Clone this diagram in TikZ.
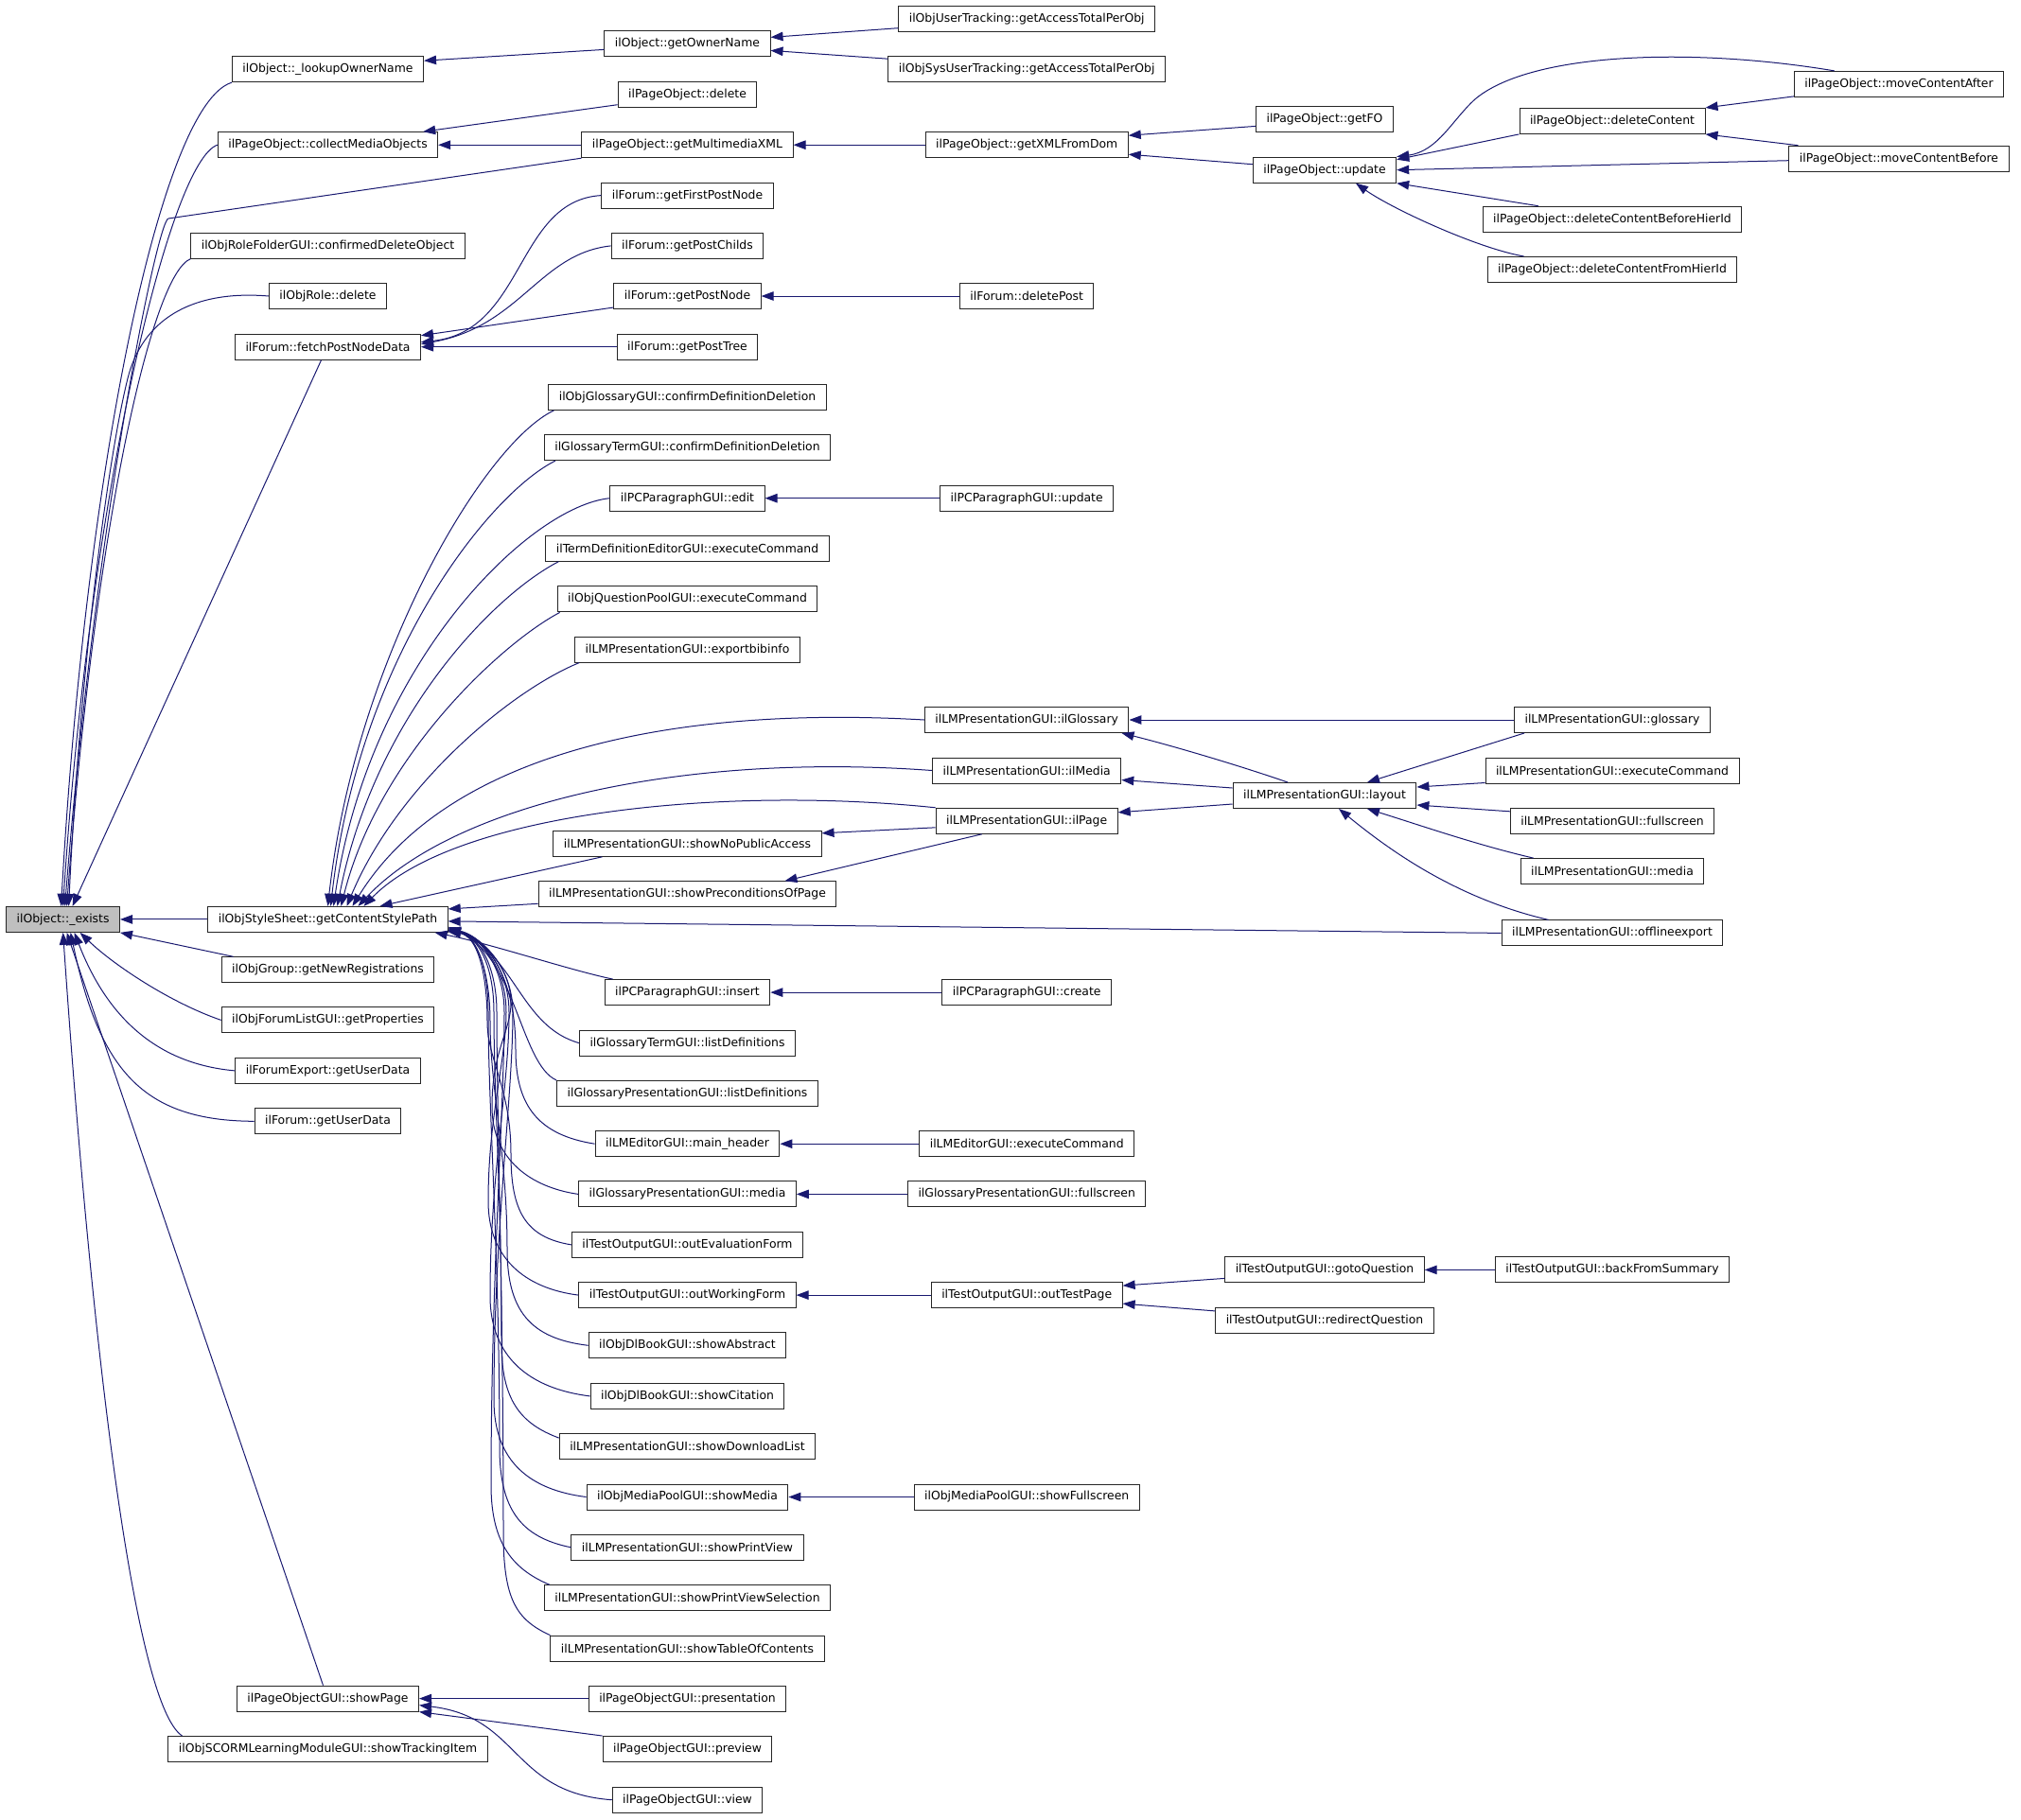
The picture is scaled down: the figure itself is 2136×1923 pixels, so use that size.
\documentclass[tikz,border=0pt]{standalone}
\usepackage{fontspec}
\setmainfont{DejaVu Sans}
\usepackage{tikz}
\usetikzlibrary{arrows.meta}
\definecolor{edgeblue}{HTML}{191970}
\definecolor{hilite}{HTML}{BFBFBF}

\begin{document}
\begin{tikzpicture}[x=1pt,y=-1pt,
	fn/.style={draw=black!85,line width=1pt,fill=white,font=\fontsize{12.4}{14}\selectfont,inner xsep=11pt,inner ysep=0pt,minimum height=27pt},
	call/.style={color=edgeblue,line width=1pt,-{Triangle[length=13pt,width=9.5pt]}}]

	\useasboundingbox (0,0) rectangle (2136,1923);

	%first column
	\node[fn,fill=hilite] (exists) at (66.6,971.9){ilObject::\_exists};
	\node[fn] (lookup) at (346.5,73.2){ilObject::\_lookupOwnerName};
	\node[fn] (collect) at (346.5,153.2){ilPageObject::collectMediaObjects};
	\node[fn] (rfdel) at (346.5,259.7){ilObjRoleFolderGUI::confirmedDeleteObject};
	\node[fn] (roledel) at (346.5,313){ilObjRole::delete};
	\node[fn] (fetch) at (346.5,366.7){ilForum::fetchPostNodeData};
	\node[fn] (gcsp) at (346.5,971.9){ilObjStyleSheet::getContentStylePath};
	\node[fn] (grpreg) at (346.5,1025.3){ilObjGroup::getNewRegistrations};
	\node[fn] (flprop) at (346.5,1078.4){ilObjForumListGUI::getProperties};
	\node[fn] (fexp) at (346.5,1131.9){ilForumExport::getUserData};
	\node[fn] (fuser) at (346.5,1185.3){ilForum::getUserData};
	\node[fn] (showpage) at (346.5,1795.6){ilPageObjectGUI::showPage};
	\node[fn] (scorm) at (346.5,1849){ilObjSCORMLearningModuleGUI::showTrackingItem};

	%second column
	\node[fn] (ownername) at (726.5,46.4){ilObject::getOwnerName};
	\node[fn] (podel) at (726.5,99.7){ilPageObject::delete};
	\node[fn] (mmxml) at (726.5,153.2){ilPageObject::getMultimediaXML};
	\node[fn] (firstpost) at (726.5,206.6){ilForum::getFirstPostNode};
	\node[fn] (postchilds) at (726.5,259.9){ilForum::getPostChilds};
	\node[fn] (postnode) at (726.5,313){ilForum::getPostNode};
	\node[fn] (posttree) at (726.5,366.7){ilForum::getPostTree};
	\node[fn] (glocdd) at (726.5,419.9){ilObjGlossaryGUI::confirmDefinitionDeletion};
	\node[fn] (termcdd) at (726.5,473.2){ilGlossaryTermGUI::confirmDefinitionDeletion};
	\node[fn] (pcedit) at (726.5,526.7){ilPCParagraphGUI::edit};
	\node[fn] (tdexec) at (726.5,579.7){ilTermDefinitionEditorGUI::executeCommand};
	\node[fn] (qpexec) at (726.5,633.4){ilObjQuestionPoolGUI::executeCommand};
	\node[fn] (bibinfo) at (726.5,686.6){ilLMPresentationGUI::exportbibinfo};
	\node[fn] (nopublic) at (726.5,891.8){ilLMPresentationGUI::showNoPublicAccess};
	\node[fn] (precond) at (726.5,945.3){ilLMPresentationGUI::showPreconditionsOfPage};
	\node[fn] (pcinsert) at (726.5,1049.1){ilPCParagraphGUI::insert};
	\node[fn] (termlist) at (726.5,1102.6){ilGlossaryTermGUI::listDefinitions};
	\node[fn] (gplist) at (726.5,1155.9){ilGlossaryPresentationGUI::listDefinitions};
	\node[fn] (mainheader) at (726.5,1209.2){ilLMEditorGUI::main\_header};
	\node[fn] (gpmedia) at (726.5,1262.4){ilGlossaryPresentationGUI::media};
	\node[fn] (evalform) at (726.5,1315.9){ilTestOutputGUI::outEvaluationForm};
	\node[fn] (workform) at (726.5,1369.1){ilTestOutputGUI::outWorkingForm};
	\node[fn] (abstract) at (726.5,1422.3){ilObjDlBookGUI::showAbstract};
	\node[fn] (citation) at (726.5,1475.9){ilObjDlBookGUI::showCitation};
	\node[fn] (download) at (726.5,1529.1){ilLMPresentationGUI::showDownloadList};
	\node[fn] (mpmedia) at (726.5,1582.5){ilObjMediaPoolGUI::showMedia};
	\node[fn] (printview) at (726.5,1635.8){ilLMPresentationGUI::showPrintView};
	\node[fn] (printsel) at (726.5,1689.3){ilLMPresentationGUI::showPrintViewSelection};
	\node[fn] (toc) at (726.5,1742.6){ilLMPresentationGUI::showTableOfContents};
	\node[fn] (presentation) at (726.5,1795.6){ilPageObjectGUI::presentation};
	\node[fn] (preview) at (726.5,1849){ilPageObjectGUI::preview};
	\node[fn] (view) at (726.5,1902.7){ilPageObjectGUI::view};

	%third column
	\node[fn] (usertrack) at (1085.2,19.7){ilObjUserTracking::getAccessTotalPerObj};
	\node[fn] (sysusertrack) at (1085.2,73.2){ilObjSysUserTracking::getAccessTotalPerObj};
	\node[fn] (xmldom) at (1085.2,153.2){ilPageObject::getXMLFromDom};
	\node[fn] (delpost) at (1085.2,313){ilForum::deletePost};
	\node[fn] (pcupdate) at (1085.2,526.7){ilPCParagraphGUI::update};
	\node[fn] (ilglossary) at (1085.2,761){ilLMPresentationGUI::ilGlossary};
	\node[fn] (ilmedia) at (1085.2,814.5){ilLMPresentationGUI::ilMedia};
	\node[fn] (ilpage) at (1085.2,867.8){ilLMPresentationGUI::ilPage};
	\node[fn] (pccreate) at (1085.2,1049.1){ilPCParagraphGUI::create};
	\node[fn] (lmeexec) at (1085.2,1209.2){ilLMEditorGUI::executeCommand};
	\node[fn] (gpfull) at (1085.2,1262.4){ilGlossaryPresentationGUI::fullscreen};
	\node[fn] (testpage) at (1085.2,1369.1){ilTestOutputGUI::outTestPage};
	\node[fn] (mpfull) at (1085.2,1582.5){ilObjMediaPoolGUI::showFullscreen};

	%fourth column
	\node[fn] (getfo) at (1400,126.4){ilPageObject::getFO};
	\node[fn] (poupdate) at (1400,179.7){ilPageObject::update};
	\node[fn] (layout) at (1400,841){ilLMPresentationGUI::layout};
	\node[fn] (gotoq) at (1400,1342.4){ilTestOutputGUI::gotoQuestion};
	\node[fn] (redirq) at (1400,1395.9){ilTestOutputGUI::redirectQuestion};

	%fifth and sixth column
	\node[fn] (delcontent) at (1704,127.9){ilPageObject::deleteContent};
	\node[fn] (delbefore) at (1704,231.7){ilPageObject::deleteContentBeforeHierId};
	\node[fn] (delfrom) at (1704,285){ilPageObject::deleteContentFromHierId};
	\node[fn] (glossary) at (1704,761){ilLMPresentationGUI::glossary};
	\node[fn] (lmexec) at (1704,814.5){ilLMPresentationGUI::executeCommand};
	\node[fn] (fullscreen) at (1704,867.8){ilLMPresentationGUI::fullscreen};
	\node[fn] (lmmedia) at (1704,921.1){ilLMPresentationGUI::media};
	\node[fn] (offline) at (1704,986.4){ilLMPresentationGUI::offlineexport};
	\node[fn] (backsum) at (1704,1342.4){ilTestOutputGUI::backFromSummary};
	\node[fn] (mvafter) at (2007,88.9){ilPageObject::moveContentAfter};
	\node[fn] (mvbefore) at (2007,167.7){ilPageObject::moveContentBefore};

	%calls of _exists
	\draw[call](lookup.south west) .. controls (170,110) and (90,500) .. ([xshift=-2pt]exists.north);
	\draw[call](collect.west) .. controls (180,170) and (95,520) .. (exists.north);
	\draw[call](mmxml.south west)--(178,231) .. controls (166,233) and (100,560) .. ([xshift=2pt]exists.north);
	\draw[call](rfdel.south west) .. controls (160,290) and (100,560) .. ([xshift=4pt]exists.north);
	\draw[call](roledel.west) .. controls (200,306) and (150,340) .. (135,400) .. controls (115,480) and (85,700) .. ([xshift=6pt]exists.north);
	\draw[call]([xshift=-7pt]fetch.south)--([xshift=10pt]exists.north);
	\draw[call](gcsp.west)--(exists.east);
	\draw[call]([xshift=13pt]grpreg.north west)--(exists.south east);
	\draw[call](flprop.west) .. controls (180,1060) and (120,1020) .. ([xshift=18pt]exists.south);
	\draw[call](fexp.west) .. controls (170,1125) and (115,1080) .. ([xshift=12pt]exists.south);
	\draw[call](fuser.west) .. controls (150,1185) and (105,1130) .. ([xshift=8pt]exists.south);
	\draw[call]([xshift=-5pt]showpage.north)--([xshift=4pt]exists.south);
	\draw[call]([xshift=15pt]scorm.north west) .. controls (140,1800) and (95,1400) .. (exists.south);

	%owner name and page objects
	\draw[call]([yshift=-6pt]ownername.west)--([yshift=9pt]lookup.east);
	\draw[call]([yshift=-10pt]usertrack.west)--([yshift=7pt]ownername.east);
	\draw[call]([yshift=11pt]sysusertrack.west)--([yshift=-7pt]ownername.east);
	\draw[call]([yshift=-11pt]podel.west)--([xshift=-16pt]collect.north east);
	\draw[call](mmxml.west)--(collect.east);
	\draw[call](xmldom.west)--(mmxml.east);
	\draw[call]([yshift=-7pt]getfo.west)--([yshift=10pt]xmldom.east);
	\draw[call]([yshift=6pt]poupdate.west)--([yshift=-10pt]xmldom.east);
	\draw[call](delcontent.south west)--([yshift=-3pt]poupdate.north east);
	\draw[call]([xshift=43pt]mvafter.north west) .. controls (1790,50) and (1620,55) .. (1560,104) .. controls (1535,126) and (1520,160) .. (poupdate.north east);
	\draw[call]([yshift=-2pt]mvbefore.west)--(poupdate.east);
	\draw[call]([yshift=-13pt]mvafter.west)--([yshift=14pt]delcontent.east);
	\draw[call]([xshift=10pt]mvbefore.north west)--([yshift=-14pt]delcontent.east);
	\draw[call]([xshift=59pt]delbefore.north west)--(poupdate.south east);
	\draw[call]([xshift=39pt]delfrom.north west) .. controls (1560,262) and (1470,220) .. ([xshift=33pt]poupdate.south);

	%forum
	\draw[call](firstpost.west) .. controls (545,212) and (555,350) .. ([yshift=5pt]fetch.east);
	\draw[call](postchilds.west) .. controls (570,268) and (550,345) .. ([yshift=3pt]fetch.east);
	\draw[call]([yshift=-12pt]postnode.west)--([yshift=12pt]fetch.east);
	\draw[call](posttree.west)--(fetch.east);
	\draw[call](delpost.west)--(postnode.east);

	%calls of getContentStylePath from above
	\draw[call]([xshift=6pt]glocdd.south west) .. controls (510,470) and (375,700) .. (gcsp.north);
	\draw[call]([xshift=12pt]termcdd.south west) .. controls (520,520) and (380,690) .. ([xshift=3pt]gcsp.north);
	\draw[call](pcedit.west) .. controls (560,535) and (390,700) .. ([xshift=6pt]gcsp.north);
	\draw[call]([xshift=14pt]tdexec.south west) .. controls (520,630) and (395,760) .. ([xshift=10pt]gcsp.north);
	\draw[call]([xshift=3pt]qpexec.south west) .. controls (530,680) and (400,800) .. ([xshift=14pt]gcsp.north);
	\draw[call]([xshift=5pt]bibinfo.south west) .. controls (540,730) and (420,830) .. ([xshift=20pt]gcsp.north);
	\draw[call](ilglossary.west) .. controls (700,745) and (470,800) .. ([xshift=26pt]gcsp.north);
	\draw[call](ilmedia.west) .. controls (720,795) and (480,850) .. ([xshift=32pt]gcsp.north);
	\draw[call](ilpage.north west) .. controls (760,830) and (480,860) .. ([xshift=38pt]gcsp.north);
	\draw[call]([xshift=52pt]nopublic.south west)--([xshift=55pt]gcsp.north);
	\draw[call]([yshift=-10pt]precond.west)--([yshift=11pt]gcsp.east);
	\draw[call](offline.west)--([yshift=-2pt]gcsp.east);
	\draw[call]([xshift=9pt]pcinsert.north west) .. controls (600,1025) and (520,998) .. ([xshift=-14pt]gcsp.south east);

	%calls of getContentStylePath from below
	\draw[call](termlist.west) .. controls (550,1085) and (545,1010) .. ([yshift=6pt]gcsp.south east);
	\draw[call](gplist.north west) .. controls (550,1125) and (545,1010) .. ([yshift=5pt]gcsp.south east);
	\draw[call](mainheader.west) .. controls (570,1200) and (545,1170) .. (545,1110) .. controls (545,1020) and (505,988) .. ([yshift=4pt]gcsp.south east);
	\draw[call](gpmedia.west) .. controls (560,1255) and (520,1225) .. (520,1170) .. controls (520,1110) and (540,1090) .. (540,1060) .. controls (540,1020) and (505,988) .. ([yshift=4pt]gcsp.south east);
	\draw[call](evalform.west) .. controls (555,1308) and (540,1280) .. (540,1220) .. controls (540,1150) and (515,1120) .. (515,1080) .. controls (515,1030) and (505,990) .. ([yshift=3pt]gcsp.south east);
	\draw[call](workform.west) .. controls (555,1362) and (516,1330) .. (516,1270) .. controls (516,1180) and (535,1120) .. (535,1070) .. controls (535,1020) and (505,988) .. ([yshift=3pt]gcsp.south east);
	\draw[call](abstract.west) .. controls (560,1415) and (536,1385) .. (536,1320) .. controls (536,1220) and (518,1150) .. (518,1080) .. controls (518,1030) and (505,990) .. ([yshift=3pt]gcsp.south east);
	\draw[call](citation.west) .. controls (560,1468) and (518,1435) .. (518,1370) .. controls (518,1240) and (538,1150) .. (538,1070) .. controls (538,1020) and (505,988) .. ([yshift=2pt]gcsp.south east);
	\draw[call]([yshift=-5pt]download.north west) .. controls (550,1505) and (530,1480) .. (530,1420) .. controls (530,1260) and (522,1160) .. (522,1070) .. controls (522,1020) and (505,990) .. ([yshift=2pt]gcsp.south east);
	\draw[call](mpmedia.west) .. controls (560,1575) and (522,1545) .. (522,1480) .. controls (522,1300) and (542,1160) .. (542,1070) .. controls (542,1020) and (505,988) .. ([yshift=2pt]gcsp.south east);
	\draw[call](printview.west) .. controls (550,1625) and (528,1595) .. (528,1530) .. controls (528,1330) and (516,1170) .. (516,1070) .. controls (516,1025) and (505,990) .. ([yshift=2pt]gcsp.south east);
	\draw[call]([xshift=6pt]printsel.north west) .. controls (545,1660) and (519,1635) .. (519,1570) .. controls (519,1350) and (533,1170) .. (533,1070) .. controls (533,1020) and (505,988) .. ([yshift=1pt]gcsp.south east);
	\draw[call](toc.north west) .. controls (545,1712) and (532,1690) .. (532,1620) .. controls (532,1380) and (525,1170) .. (525,1070) .. controls (525,1020) and (505,988) .. ([yshift=1pt]gcsp.south east);

	%presentation layout
	\draw[call](pcupdate.west)--(pcedit.east);
	\draw[call]([xshift=-39pt]layout.north) .. controls (1300,806) and (1230,786) .. ([xshift=-8pt]ilglossary.south east);
	\draw[call](glossary.west)--(ilglossary.east);
	\draw[call]([xshift=11pt]glossary.south west)--([xshift=45pt]layout.north);
	\draw[call]([yshift=8pt]layout.west)--([yshift=-10pt]ilmedia.east);
	\draw[call]([yshift=-9pt]layout.west)--([yshift=9pt]ilpage.east);
	\draw[call]([yshift=-13pt]lmexec.west)--([yshift=9pt]layout.east);
	\draw[call]([yshift=10pt]fullscreen.west)--([yshift=-10pt]layout.east);
	\draw[call]([xshift=14pt]lmmedia.north west) .. controls (1560,893) and (1500,872) .. ([xshift=45pt]layout.south);
	\draw[call]([xshift=50pt]offline.north west) .. controls (1540,950) and (1470,900) .. ([xshift=15pt]layout.south);
	\draw[call]([yshift=-7pt]ilpage.west)--([yshift=11pt]nopublic.east);
	\draw[call]([xshift=49pt]ilpage.south west)--([xshift=103pt]precond.north);

	%single callers
	\draw[call](pccreate.west)--(pcinsert.east);
	\draw[call](lmeexec.west)--(mainheader.east);
	\draw[call](gpfull.west)--(gpmedia.east);
	\draw[call](testpage.west)--(workform.east);
	\draw[call](mpfull.west)--(mpmedia.east);
	\draw[call]([yshift=-9pt]gotoq.west)--([yshift=10pt]testpage.east);
	\draw[call]([yshift=10pt]redirq.west)--([yshift=-9pt]testpage.east);
	\draw[call](backsum.west)--(gotoq.east);

	%showPage
	\draw[call](presentation.west)--(showpage.east);
	\draw[call](preview.north west)--(showpage.south east);
	\draw[call](view.west) .. controls (540,1895) and (550,1815) .. ([yshift=-7pt]showpage.east);

\end{tikzpicture}
\end{document}
